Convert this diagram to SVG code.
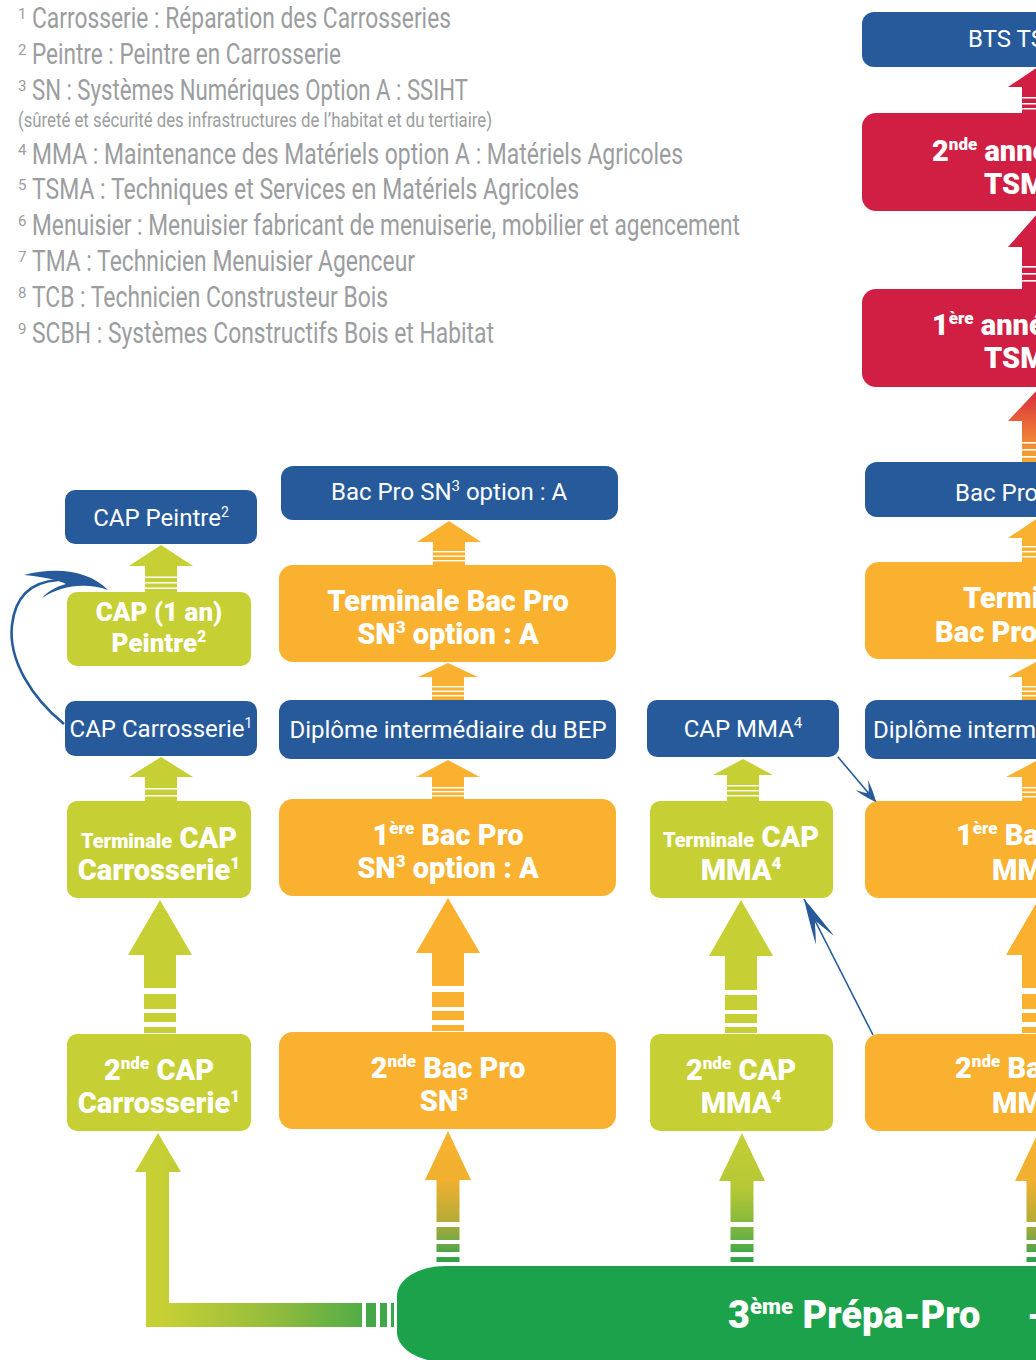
<svg xmlns="http://www.w3.org/2000/svg" width="1036" height="1360" viewBox="0 0 1036 1360">
<style>
.lg{font-family:Roboto,"Liberation Sans",sans-serif;fill:#9b9da0;font-size:29px}
.ls{font-family:Roboto,"Liberation Sans",sans-serif;fill:#9b9da0;font-size:15px}
.bl{fill:#275a9b}.og{fill:#f9b12f}.yg{fill:#c6cf34}.rd{fill:#d01f42}.gn{fill:#1ba24a}
.tw{font-family:Roboto,"Liberation Sans",sans-serif;fill:#fff;font-size:24px;text-anchor:middle}
.tb{font-family:Roboto,"Liberation Sans",sans-serif;fill:#fff;font-size:29px;font-weight:900;text-anchor:middle}
.tw.ts,.tb.ts{text-anchor:start}
.wl{fill:#fff}
.thin{fill:none;stroke:#275a9b;stroke-width:1.6}
</style>
<defs>
<linearGradient id="gOG" gradientUnits="userSpaceOnUse" x1="0" y1="1131" x2="0" y2="1262">
<stop offset="0" stop-color="#f9b12f"/><stop offset="0.38" stop-color="#f0b030"/><stop offset="0.68" stop-color="#b6ac37"/><stop offset="0.82" stop-color="#7ea842"/><stop offset="1" stop-color="#2aa24a"/>
</linearGradient>
<linearGradient id="gYG" gradientUnits="userSpaceOnUse" x1="0" y1="1133" x2="0" y2="1262">
<stop offset="0" stop-color="#c6cf34"/><stop offset="0.45" stop-color="#b3c737"/><stop offset="0.75" stop-color="#7bb540"/><stop offset="1" stop-color="#2ba449"/>
</linearGradient>
<linearGradient id="gRO" gradientUnits="userSpaceOnUse" x1="0" y1="389" x2="0" y2="462">
<stop offset="0" stop-color="#d4293f"/><stop offset="0.5" stop-color="#ea6a37"/><stop offset="1" stop-color="#f6a92f"/>
</linearGradient>
<linearGradient id="gL" gradientUnits="userSpaceOnUse" x1="165" y1="0" x2="395" y2="0">
<stop offset="0" stop-color="#c6cf34"/><stop offset="0.45" stop-color="#96bd3c"/><stop offset="1" stop-color="#3aa64a"/>
</linearGradient>
<marker id="hA" markerUnits="userSpaceOnUse" markerWidth="34" markerHeight="24" viewBox="-30 -12 34 24" refX="0" refY="0" orient="auto">
<path d="M0,0 C-6,-3 -14,-6 -22,-8 C-16,-4 -13,-2 -12,0 C-13,2 -16,4 -22,8 C-14,6 -6,3 0,0 Z" fill="#275a9b"/>
</marker>
<marker id="hB" markerUnits="userSpaceOnUse" markerWidth="54" markerHeight="26" viewBox="-50 -13 54 26" refX="0" refY="0" orient="auto">
<path d="M0,0 C-12,-3 -30,-7 -46,-10 C-36,-5 -28,-2 -24,0 C-28,2 -36,5 -46,10 C-30,7 -12,3 0,0 Z" fill="#275a9b"/>
</marker>
</defs>

<g id="legend">
<text class="ls" x="18" y="19">1</text><text class="lg" x="32" y="28" textLength="419" lengthAdjust="spacingAndGlyphs">Carrosserie : Réparation des Carrosseries</text>
<text class="ls" x="18" y="55">2</text><text class="lg" x="32" y="64" textLength="309" lengthAdjust="spacingAndGlyphs">Peintre : Peintre en Carrosserie</text>
<text class="ls" x="18" y="91">3</text><text class="lg" x="32" y="100" textLength="436" lengthAdjust="spacingAndGlyphs">SN : Systèmes Numériques Option A : SSIHT</text>
<text class="lg" x="18" y="127" style="font-size:21px" textLength="474" lengthAdjust="spacingAndGlyphs">(sûreté et sécurité des infrastructures de l’habitat et du tertiaire)</text>
<text class="ls" x="18" y="155">4</text><text class="lg" x="32" y="164" textLength="651" lengthAdjust="spacingAndGlyphs">MMA : Maintenance des Matériels option A : Matériels Agricoles</text>
<text class="ls" x="18" y="190">5</text><text class="lg" x="32" y="199" textLength="547" lengthAdjust="spacingAndGlyphs">TSMA : Techniques et Services en Matériels Agricoles</text>
<text class="ls" x="18" y="226">6</text><text class="lg" x="32" y="235" textLength="708" lengthAdjust="spacingAndGlyphs">Menuisier : Menuisier fabricant de menuiserie, mobilier et agencement</text>
<text class="ls" x="18" y="262">7</text><text class="lg" x="32" y="271" textLength="383" lengthAdjust="spacingAndGlyphs">TMA : Technicien Menuisier Agenceur</text>
<text class="ls" x="18" y="298">8</text><text class="lg" x="32" y="307" textLength="356" lengthAdjust="spacingAndGlyphs">TCB : Technicien Construsteur Bois</text>
<text class="ls" x="18" y="334">9</text><text class="lg" x="32" y="343" textLength="462" lengthAdjust="spacingAndGlyphs">SCBH : Systèmes Constructifs Bois et Habitat</text>
</g>

<g id="connectors">
<!-- left column -->
<path class="yg" d="M161,545 L193,566 L177,566 L177,592 L145,592 L145,566 L129,566 Z"/>
<rect class="wl" x="145" y="576.5" width="32" height="1.5"/><rect class="wl" x="145" y="582" width="32" height="1.5"/><rect class="wl" x="145" y="587.5" width="32" height="1.5"/>
<path class="yg" d="M161,757 L193,777 L177,777 L177,801 L145,801 L145,777 L129,777 Z"/>
<rect class="wl" x="145" y="788" width="32" height="1.5"/><rect class="wl" x="145" y="795" width="32" height="1.5"/>
<path class="yg" d="M160,900 L192,955 L176,955 L176,988 L144,988 L144,955 L128,955 Z"/>
<rect class="yg" x="144" y="994" width="32" height="15"/><rect class="yg" x="144" y="1013" width="32" height="9"/><rect class="yg" x="144" y="1027" width="32" height="6"/>
<path fill="url(#gL)" d="M158,1133 L181,1172 L169,1172 L169,1303 L362,1303 L362,1327 L146,1327 L146,1172 L135,1172 Z"/>
<rect fill="#44a849" x="366" y="1303" width="10" height="24"/><rect fill="#3ea74a" x="380" y="1303" width="7" height="24"/><rect fill="#3aa64a" x="391" y="1303" width="3" height="24"/>
<!-- middle column -->
<path class="og" d="M449,521 L481,542 L465,542 L465,565 L433,565 L433,542 L417,542 Z"/>
<rect class="wl" x="433" y="551" width="32" height="1.4"/><rect class="wl" x="433" y="555.5" width="32" height="1.4"/><rect class="wl" x="433" y="560" width="32" height="1.4"/>
<path class="og" d="M448,663 L478,677 L464,677 L464,700 L432,700 L432,677 L418,677 Z"/>
<rect class="wl" x="432" y="686" width="32" height="1.4"/><rect class="wl" x="432" y="690.5" width="32" height="1.4"/><rect class="wl" x="432" y="695" width="32" height="1.4"/>
<path class="og" d="M448,760 L480,777 L464,777 L464,799 L432,799 L432,777 L416,777 Z"/>
<rect class="wl" x="432" y="787" width="32" height="1.4"/><rect class="wl" x="432" y="791" width="32" height="1.4"/><rect class="wl" x="432" y="795" width="32" height="1.4"/>
<path class="og" d="M448,898 L480,953 L464,953 L464,986 L432,986 L432,953 L416,953 Z"/>
<rect class="og" x="432" y="992" width="32" height="15"/><rect class="og" x="432" y="1011" width="32" height="9"/><rect class="og" x="432" y="1025" width="32" height="6"/>
<g fill="url(#gOG)">
<path d="M448,1131 L471,1180 L459.5,1180 L459.5,1222 L436.5,1222 L436.5,1180 L425,1180 Z"/>
<rect x="436.5" y="1227" width="23" height="13"/><rect x="436.5" y="1244" width="23" height="8"/><rect x="436.5" y="1257" width="23" height="5"/>
</g>
<!-- third column -->
<path class="yg" d="M743,759 L773,775 L759,775 L759,801 L727,801 L727,775 L713,775 Z"/>
<rect class="wl" x="727" y="785" width="32" height="1.4"/><rect class="wl" x="727" y="790" width="32" height="1.4"/><rect class="wl" x="727" y="795" width="32" height="1.4"/>
<path class="yg" d="M741,900 L773,956 L757,956 L757,990 L725,990 L725,956 L709,956 Z"/>
<rect class="yg" x="725" y="995" width="32" height="15"/><rect class="yg" x="725" y="1014" width="32" height="9"/><rect class="yg" x="725" y="1027" width="32" height="6"/>
<g fill="url(#gYG)">
<path d="M742,1133 L765,1181 L753.5,1181 L753.5,1222 L730.5,1222 L730.5,1181 L719,1181 Z"/>
<rect x="730.5" y="1227" width="23" height="13"/><rect x="730.5" y="1244" width="23" height="8"/><rect x="730.5" y="1257" width="23" height="5"/>
</g>
<!-- right column -->
<path class="rd" d="M1038,67 L1068,87 L1054,87 L1054,113 L1022,113 L1022,87 L1008,87 Z"/>
<rect class="wl" x="1022" y="97" width="32" height="1.5"/><rect class="wl" x="1022" y="103" width="32" height="1.5"/><rect class="wl" x="1022" y="108" width="32" height="1.5"/>
<path class="rd" d="M1038,213 L1068,247 L1054,247 L1054,289 L1022,289 L1022,247 L1008,247 Z"/>
<rect class="wl" x="1022" y="266" width="32" height="1.6"/><rect class="wl" x="1022" y="273" width="32" height="1.6"/><rect class="wl" x="1022" y="280" width="32" height="1.6"/>
<path fill="url(#gRO)" d="M1038,389 L1068,421 L1054,421 L1054,462 L1022,462 L1022,421 L1008,421 Z"/>
<rect class="wl" x="1022" y="442" width="32" height="1.6"/><rect class="wl" x="1022" y="449" width="32" height="1.6"/><rect class="wl" x="1022" y="456" width="32" height="1.6"/>
<path class="og" d="M1038,518 L1068,538 L1054,538 L1054,562 L1022,562 L1022,538 L1008,538 Z"/>
<rect class="wl" x="1022" y="546" width="32" height="1.4"/><rect class="wl" x="1022" y="551" width="32" height="1.4"/><rect class="wl" x="1022" y="556" width="32" height="1.4"/>
<path class="og" d="M1038,661 L1068,677 L1054,677 L1054,700 L1022,700 L1022,677 L1008,677 Z"/>
<rect class="wl" x="1022" y="686" width="32" height="1.4"/><rect class="wl" x="1022" y="690.5" width="32" height="1.4"/><rect class="wl" x="1022" y="695" width="32" height="1.4"/>
<path class="og" d="M1038,760 L1070,777 L1054,777 L1054,801 L1022,801 L1022,777 L1006,777 Z"/>
<rect class="wl" x="1022" y="787" width="32" height="1.4"/><rect class="wl" x="1022" y="791.5" width="32" height="1.4"/><rect class="wl" x="1022" y="796" width="32" height="1.4"/>
<path class="og" d="M1038,900 L1070,955 L1054,955 L1054,988 L1022,988 L1022,955 L1006,955 Z"/>
<rect class="og" x="1022" y="994" width="32" height="15"/><rect class="og" x="1022" y="1013" width="32" height="9"/><rect class="og" x="1022" y="1027" width="32" height="6"/>
<g fill="url(#gOG)">
<path d="M1038,1133 L1061,1181 L1049.5,1181 L1049.5,1222 L1026.5,1222 L1026.5,1181 L1015,1181 Z"/>
<rect x="1026.5" y="1227" width="23" height="13"/><rect x="1026.5" y="1244" width="23" height="8"/><rect x="1026.5" y="1257" width="23" height="5"/>
</g>
<!-- thin blue arrows -->
<path d="M64,724 C32,698 8,660 12,625 C15,598 30,582 58,580" fill="none" stroke="#275a9b" stroke-width="2.6"/>
<path d="M108,590 C90,572 60,566 24,575 C45,577 58,580 66,584 C55,587 47,592 42,598 C60,586 85,582 108,590 Z" fill="#275a9b"/>
<path class="thin" d="M838,757 L876,802" marker-end="url(#hA)"/>
<path class="thin" d="M873,1035 L804,899" marker-end="url(#hB)"/>
</g>

<g id="n_cap_peintre"><rect class="bl" x="65" y="490" width="192" height="54" rx="10"/><text class="tw" x="161" y="526">CAP Peintre<tspan font-size="14" dy="-9">2</tspan></text></g>
<g id="n_cap_1an"><rect class="yg" x="67" y="592" width="184" height="74" rx="10"/><text class="tb" x="159" y="621" style="font-size:26px">CAP (1 an)</text><text class="tb" x="159" y="652" style="font-size:26px">Peintre<tspan font-size="16" dy="-10">2</tspan></text></g>
<g id="n_cap_carr"><rect class="bl" x="65" y="701" width="192" height="55" rx="10"/><text class="tw" x="161" y="737">CAP Carrosserie<tspan font-size="14" dy="-9">1</tspan></text></g>
<g id="n_term_cap_carr"><rect class="yg" x="67" y="801" width="184" height="97" rx="10"/><text class="tb" x="159" y="848"><tspan font-size="20">Terminale</tspan> CAP</text><text class="tb" x="159" y="880">Carrosserie<tspan font-size="17" dy="-11">1</tspan></text></g>
<g id="n_2nde_cap_carr"><rect class="yg" x="67" y="1034" width="184" height="97" rx="10"/><text class="tb" x="159" y="1080">2<tspan font-size="17" dy="-11">nde</tspan><tspan dy="11"> CAP</tspan></text><text class="tb" x="159" y="1113">Carrosserie<tspan font-size="17" dy="-11">1</tspan></text></g>

<g id="n_bacpro_sn"><rect class="bl" x="281" y="466" width="337" height="54" rx="12"/><text class="tw" x="449" y="500">Bac Pro SN<tspan font-size="15" dy="-9">3</tspan><tspan dy="9"> option : A</tspan></text></g>
<g id="n_term_sn"><rect class="og" x="279" y="565" width="337" height="97" rx="14"/><text class="tb" x="448" y="611">Terminale Bac Pro</text><text class="tb" x="448" y="644">SN<tspan font-size="17" dy="-11">3</tspan><tspan dy="11"> option : A</tspan></text></g>
<g id="n_dip_sn"><rect class="bl" x="279" y="700" width="337" height="59" rx="12"/><text class="tw" x="448" y="738">Diplôme intermédiaire du BEP</text></g>
<g id="n_1ere_sn"><rect class="og" x="279" y="799" width="337" height="97" rx="14"/><text class="tb" x="448" y="845">1<tspan font-size="17" dy="-11">ère</tspan><tspan dy="11"> Bac Pro</tspan></text><text class="tb" x="448" y="878">SN<tspan font-size="17" dy="-11">3</tspan><tspan dy="11"> option : A</tspan></text></g>
<g id="n_2nde_sn"><rect class="og" x="279" y="1032" width="337" height="97" rx="14"/><text class="tb" x="448" y="1078">2<tspan font-size="17" dy="-11">nde</tspan><tspan dy="11"> Bac Pro</tspan></text><text class="tb" x="444" y="1111">SN<tspan font-size="17" dy="-11">3</tspan></text></g>

<g id="n_cap_mma"><rect class="bl" x="647" y="700" width="192" height="57" rx="10"/><text class="tw" x="743" y="737">CAP MMA<tspan font-size="15" dy="-9">4</tspan></text></g>
<g id="n_term_cap_mma"><rect class="yg" x="650" y="801" width="183" height="97" rx="10"/><text class="tb" x="741" y="847"><tspan font-size="20">Terminale</tspan> CAP</text><text class="tb" x="741" y="880">MMA<tspan font-size="17" dy="-11">4</tspan></text></g>
<g id="n_2nde_cap_mma"><rect class="yg" x="650" y="1034" width="183" height="97" rx="10"/><text class="tb" x="741" y="1080">2<tspan font-size="17" dy="-11">nde</tspan><tspan dy="11"> CAP</tspan></text><text class="tb" x="741" y="1113">MMA<tspan font-size="17" dy="-11">4</tspan></text></g>

<g id="n_bts"><rect class="bl" x="862" y="12" width="340" height="55" rx="12"/><text class="tw ts" x="968" y="47">BTS TSMA<tspan font-size="15" dy="-9">5</tspan></text></g>
<g id="n_2nde_bts"><rect class="rd" x="862" y="113" width="340" height="98" rx="14"/><text class="tb ts" x="932" y="161">2<tspan font-size="17" dy="-11">nde</tspan><tspan dy="11"> année BTS</tspan></text><text class="tb ts" x="984" y="194">TSMA<tspan font-size="17" dy="-11">5</tspan></text></g>
<g id="n_1ere_bts"><rect class="rd" x="862" y="289" width="340" height="98" rx="14"/><text class="tb ts" x="932" y="335">1<tspan font-size="17" dy="-11">ère</tspan><tspan dy="11"> année BTS</tspan></text><text class="tb ts" x="984" y="368">TSMA<tspan font-size="17" dy="-11">5</tspan></text></g>
<g id="n_bacpro_mma"><rect class="bl" x="865" y="462" width="337" height="55" rx="12"/><text class="tw ts" x="955" y="501">Bac Pro MMA<tspan font-size="15" dy="-9">4</tspan></text></g>
<g id="n_term_mma"><rect class="og" x="865" y="562" width="337" height="97" rx="14"/><text class="tb ts" x="963" y="608">Terminale</text><text class="tb ts" x="935" y="642">Bac Pro MMA<tspan font-size="17" dy="-11">4</tspan></text></g>
<g id="n_dip_mma"><rect class="bl" x="865" y="700" width="337" height="59" rx="12"/><text class="tw ts" x="873" y="738">Diplôme intermédiaire du BEP</text></g>
<g id="n_1ere_mma"><rect class="og" x="865" y="801" width="337" height="97" rx="14"/><text class="tb ts" x="956" y="845">1<tspan font-size="17" dy="-11">ère</tspan><tspan dy="11"> Bac Pro</tspan></text><text class="tb ts" x="992" y="880">MMA<tspan font-size="17" dy="-11">4</tspan></text></g>
<g id="n_2nde_mma"><rect class="og" x="865" y="1034" width="337" height="97" rx="14"/><text class="tb ts" x="955" y="1078">2<tspan font-size="17" dy="-11">nde</tspan><tspan dy="11"> Bac Pro</tspan></text><text class="tb ts" x="992" y="1113">MMA<tspan font-size="17" dy="-11">4</tspan></text></g>

<g id="n_prepa"><rect class="gn" x="397" y="1266" width="700" height="96" rx="48" ry="30"/><text class="tb ts" x="728" y="1328" style="font-size:38px">3<tspan font-size="22" dy="-14">ème</tspan><tspan dy="14"> Prépa-Pro</tspan></text><text class="tb ts" x="1027" y="1328" style="font-size:38px">-</text></g>
</svg>
